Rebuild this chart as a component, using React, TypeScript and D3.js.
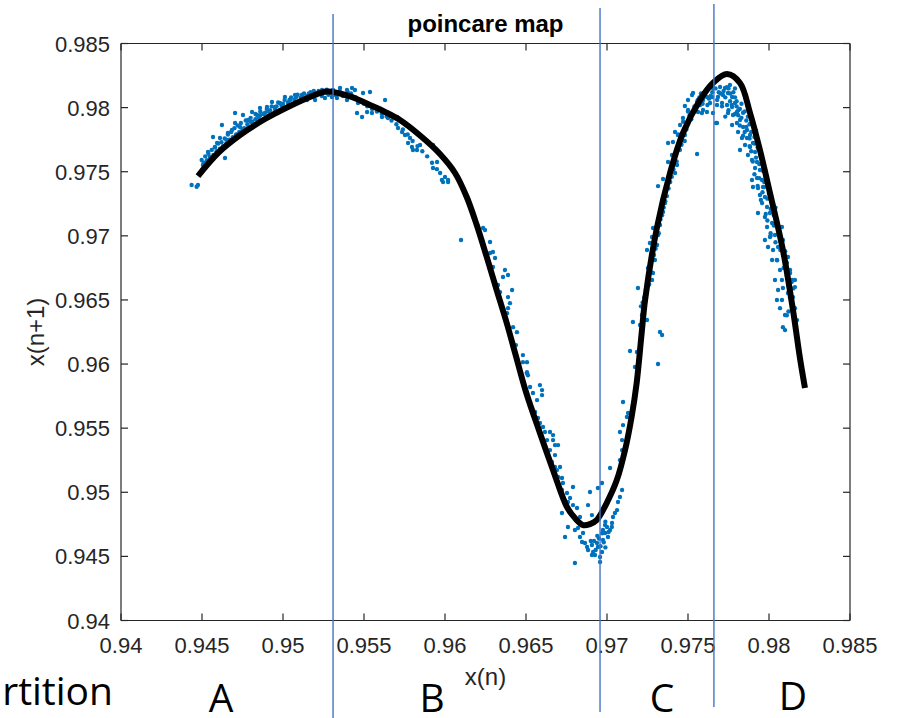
import React from "react";
import * as d3 from "d3";

// ---- data ----
const xTickValues = [0.94, 0.945, 0.95, 0.955, 0.96, 0.965, 0.97, 0.975, 0.98, 0.985];
const xTickLabels = ["0.94", "0.945", "0.95", "0.955", "0.96", "0.965", "0.97", "0.975", "0.98", "0.985"];
const yTickValues = [0.94, 0.945, 0.95, 0.955, 0.96, 0.965, 0.97, 0.975, 0.98, 0.985];
const yTickLabels = ["0.94", "0.945", "0.95", "0.955", "0.96", "0.965", "0.97", "0.975", "0.98", "0.985"];

const titleText = "poincare map";
const xLabel = "x(n)";
const yLabel = "x(n+1)";

// fitted map (black curve)
const fitX = [0.94475, 0.94599, 0.94735, 0.94889, 0.95043, 0.95167, 0.95272, 0.95414, 0.95537, 0.9563, 0.95722, 0.95846, 0.95969, 0.96062, 0.96134, 0.96196, 0.96257, 0.96319, 0.96381, 0.96438, 0.965, 0.96586, 0.96667, 0.96753, 0.96802, 0.96852, 0.96895, 0.96936, 0.96998, 0.9706, 0.97111, 0.97152, 0.97183, 0.97214, 0.97235, 0.97309, 0.97389, 0.97469, 0.97574, 0.97654, 0.97741, 0.97821, 0.97883, 0.97944, 0.98006, 0.98086, 0.98148, 0.98191, 0.98222];
const fitY = [0.97466, 0.97646, 0.97786, 0.97911, 0.98012, 0.98083, 0.98126, 0.98087, 0.9802, 0.97966, 0.97903, 0.97782, 0.97638, 0.9749, 0.97303, 0.97084, 0.96837, 0.96577, 0.9632, 0.96062, 0.95782, 0.95462, 0.95173, 0.94885, 0.94799, 0.94744, 0.94752, 0.94783, 0.94916, 0.95093, 0.95327, 0.95589, 0.95852, 0.96242, 0.96499, 0.97069, 0.9749, 0.97802, 0.98059, 0.98192, 0.98262, 0.98192, 0.97958, 0.97669, 0.97334, 0.96889, 0.96421, 0.96047, 0.95813];

// scatter points, region A
const pointsA: [number, number][] = [
  [0.94436, 0.97396], [0.94467, 0.97383], [0.94475, 0.97396], [0.94498, 0.97591], [0.94506, 0.97552], [0.94537, 0.97654],
  [0.94549, 0.97615], [0.94568, 0.97771], [0.9458, 0.97693], [0.94593, 0.97724], [0.94623, 0.97864], [0.94611, 0.97763],
  [0.94642, 0.97607], [0.9466, 0.97802], [0.94685, 0.97825], [0.94704, 0.97958], [0.94704, 0.9788], [0.94735, 0.97849],
  [0.94753, 0.97942], [0.94784, 0.97903], [0.94809, 0.97966], [0.9484, 0.97942], [0.94858, 0.97997], [0.94901, 0.98005],
  [0.94932, 0.98044], [0.94951, 0.98005], [0.94981, 0.98036], [0.95012, 0.98083], [0.95043, 0.98059], [0.95074, 0.98098],
  [0.95117, 0.98098], [0.95148, 0.98059], [0.95198, 0.98059], [0.95241, 0.98137], [0.95259, 0.98075], [0.95302, 0.98083],
  [0.9451, 0.9757], [0.9452, 0.9762], [0.9453, 0.9759], [0.9454, 0.9764], [0.9455, 0.9761], [0.9456, 0.9767],
  [0.9457, 0.9763], [0.9458, 0.9769], [0.9459, 0.9766], [0.946, 0.9772], [0.9461, 0.9768], [0.9462, 0.9773],
  [0.9463, 0.977], [0.9464, 0.9776], [0.9465, 0.9772], [0.9466, 0.9779], [0.9467, 0.9775], [0.9468, 0.9781],
  [0.9469, 0.9777], [0.947, 0.9784], [0.9471, 0.9779], [0.9472, 0.9786], [0.9473, 0.9781], [0.9474, 0.9788],
  [0.9476, 0.9784], [0.9477, 0.979], [0.9478, 0.9787], [0.948, 0.9792], [0.9481, 0.9789], [0.9483, 0.9795],
  [0.9485, 0.9792], [0.9486, 0.9797], [0.9488, 0.9795], [0.949, 0.9799], [0.9491, 0.9797], [0.9493, 0.9801],
  [0.9495, 0.9799], [0.9497, 0.9804], [0.9499, 0.9802], [0.9501, 0.9806], [0.9503, 0.9804], [0.9505, 0.9808],
  [0.9507, 0.9806], [0.9509, 0.981], [0.9511, 0.9808], [0.9513, 0.9811], [0.9515, 0.9809], [0.9517, 0.9812],
  [0.952, 0.981], [0.9522, 0.9813], [0.9524, 0.9809], [0.9526, 0.9812], [0.9528, 0.981], [0.953, 0.9813],
  [0.945, 0.9751], [0.9452, 0.9755], [0.9455, 0.9758], [0.9457, 0.976], [0.946, 0.9765], [0.9462, 0.9768],
  [0.9465, 0.9775], [0.9467, 0.9772], [0.947, 0.9776], [0.9472, 0.9779], [0.9475, 0.9783], [0.9478, 0.9784],
  [0.948, 0.9789], [0.9483, 0.9791], [0.9486, 0.9794], [0.9489, 0.9796], [0.9492, 0.9798], [0.9496, 0.9801],
  [0.95, 0.9803], [0.9504, 0.9806], [0.9508, 0.9808], [0.9512, 0.981], [0.9516, 0.9811], [0.9519, 0.9813],
  [0.9523, 0.9811], [0.9527, 0.9814],
];

// region B
const pointsB: [number, number][] = [
  [0.95309, 0.98137], [0.95352, 0.98153], [0.95395, 0.98137], [0.95426, 0.98153], [0.95444, 0.98137], [0.95333, 0.98075],
  [0.95395, 0.98059], [0.95463, 0.98036], [0.95494, 0.98114], [0.95537, 0.98122], [0.9563, 0.98059], [0.95457, 0.97958],
  [0.95488, 0.97927], [0.95519, 0.97966], [0.95549, 0.97958], [0.95611, 0.97927], [0.95648, 0.97919], [0.95704, 0.97927],
  [0.9571, 0.97841], [0.95735, 0.9781], [0.95753, 0.97786], [0.95772, 0.97724], [0.95796, 0.97693], [0.95802, 0.97669],
  [0.95827, 0.97669], [0.95846, 0.97708], [0.95784, 0.97763], [0.95926, 0.97708], [0.95926, 0.97529], [0.95951, 0.97576],
  [0.95981, 0.97435], [0.96, 0.97459], [0.96019, 0.97435], [0.96142, 0.97279], [0.95988, 0.97419], [0.96019, 0.97419],
  [0.96142, 0.97294], [0.96099, 0.96967], [0.96185, 0.97139], [0.96235, 0.97061], [0.96247, 0.97045], [0.96278, 0.96952],
  [0.96278, 0.96866], [0.96296, 0.96874], [0.96309, 0.96827], [0.96296, 0.96757], [0.9637, 0.96733], [0.96358, 0.96679],
  [0.96389, 0.96694], [0.96327, 0.96616], [0.9634, 0.96561], [0.96414, 0.96577], [0.96389, 0.96522], [0.96401, 0.96475],
  [0.96389, 0.96436], [0.96383, 0.96397], [0.9642, 0.96288], [0.96444, 0.96249], [0.96438, 0.96148], [0.96481, 0.9607],
  [0.96481, 0.96015], [0.96506, 0.96015], [0.96506, 0.95937], [0.96512, 0.95913],
  [0.9532, 0.981], [0.9535, 0.9813], [0.9537, 0.9809], [0.954, 0.9812], [0.9542, 0.9811], [0.9545, 0.9808],
  [0.9547, 0.9806], [0.955, 0.9803], [0.9552, 0.9801], [0.9555, 0.9799], [0.9558, 0.9797], [0.9561, 0.9795],
  [0.9564, 0.9793], [0.9567, 0.979], [0.957, 0.9787], [0.9574, 0.9783], [0.9577, 0.9779], [0.958, 0.9774],
  [0.9583, 0.977], [0.9586, 0.9766], [0.9589, 0.9762], [0.9592, 0.9757], [0.9595, 0.9752], [0.9597, 0.9749],
];

// valley (end of B, start of C)
const pointsValley: [number, number][] = [
  [0.96506, 0.95929], [0.96525, 0.95821], [0.96543, 0.95774], [0.96586, 0.95836], [0.96599, 0.95797], [0.96599, 0.95758],
  [0.96568, 0.95719], [0.96556, 0.95626], [0.96574, 0.95579], [0.96586, 0.9554], [0.96605, 0.95509], [0.96617, 0.9547],
  [0.9663, 0.95407], [0.96648, 0.9547], [0.96667, 0.95446], [0.96667, 0.95407], [0.96679, 0.95368], [0.96698, 0.95368],
  [0.96648, 0.95329], [0.96679, 0.9529], [0.9666, 0.95236], [0.96679, 0.95197], [0.9671, 0.95197], [0.96691, 0.95173],
  [0.96698, 0.95119], [0.96722, 0.95111], [0.96728, 0.95072], [0.9679, 0.95041], [0.96722, 0.95018], [0.96753, 0.94994],
  [0.96772, 0.94955], [0.96759, 0.94924], [0.9679, 0.949], [0.96815, 0.94877], [0.96722, 0.94838], [0.96833, 0.94807],
  [0.96759, 0.94729], [0.96741, 0.94651], [0.96802, 0.94706], [0.96821, 0.94721], [0.96833, 0.94651], [0.96852, 0.94682],
  [0.96846, 0.94612], [0.96864, 0.94604], [0.96877, 0.94573], [0.96883, 0.9455], [0.96907, 0.94589], [0.96914, 0.94534],
  [0.96907, 0.94511], [0.96926, 0.94511], [0.96938, 0.94604], [0.96944, 0.94573], [0.96957, 0.94495], [0.96957, 0.94456],
  [0.96969, 0.94534], [0.96975, 0.94628], [0.96988, 0.94682], [0.97, 0.94729], [0.97006, 0.94651], [0.97019, 0.94706],
  [0.97031, 0.9476], [0.97037, 0.94807], [0.97049, 0.94838], [0.97062, 0.94861], [0.96988, 0.94744], [0.96975, 0.94706],
  [0.96802, 0.94448], [0.96895, 0.95002], [0.96883, 0.949], [0.96907, 0.94822], [0.96944, 0.95033], [0.96969, 0.95072],
  [0.97019, 0.95189], [0.97068, 0.94924], [0.9708, 0.94963], [0.97093, 0.95018], [0.9708, 0.95251], [0.97093, 0.95329],
  [0.97093, 0.95407], [0.9708, 0.9547], [0.97099, 0.95524], [0.97123, 0.95587], [0.97099, 0.95704], [0.9713, 0.95618],
  [0.9692, 0.9462], [0.9694, 0.9466], [0.9696, 0.9458], [0.9698, 0.9461], [0.9699, 0.9457], [0.9697, 0.9468],
  [0.9695, 0.9464], [0.9693, 0.9455], [0.969, 0.9462], [0.9701, 0.9469], [0.9703, 0.9473], [0.9699, 0.9477],
];

// rising part C
const pointsC: [number, number][] = [
  [0.97315, 0.96], [0.97173, 0.95977], [0.97142, 0.96102], [0.97185, 0.96094], [0.9716, 0.96328], [0.97204, 0.96305],
  [0.97216, 0.96383], [0.97247, 0.96344], [0.97327, 0.9625], [0.9734, 0.96227], [0.97191, 0.96593], [0.97278, 0.96655],
  [0.97284, 0.9671], [0.97253, 0.96749], [0.97296, 0.96811], [0.97247, 0.96889], [0.97265, 0.96944], [0.97309, 0.96928],
  [0.97278, 0.96991], [0.97315, 0.97006], [0.97284, 0.97061], [0.97327, 0.97084], [0.97358, 0.97256], [0.97346, 0.97186],
  [0.97315, 0.97388], [0.97346, 0.97443], [0.97377, 0.97576], [0.9742, 0.9749], [0.97432, 0.97552], [0.97401, 0.9763],
  [0.97377, 0.97724], [0.97407, 0.97732], [0.9742, 0.9781], [0.97438, 0.97786], [0.97481, 0.97786], [0.97451, 0.97864],
  [0.97469, 0.97919], [0.97481, 0.98012], [0.975, 0.97981], [0.975, 0.98059], [0.97525, 0.98098], [0.97531, 0.98114],
  [0.97556, 0.97638], [0.97556, 0.98044], [0.97562, 0.97966], [0.97586, 0.97958], [0.97574, 0.9802], [0.97593, 0.98059],
  [0.97617, 0.98083], [0.97617, 0.97966], [0.97636, 0.98036], [0.97648, 0.98083], [0.97673, 0.9788], [0.97679, 0.9802],
  [0.9721, 0.9645], [0.9723, 0.9652], [0.9726, 0.9662], [0.9729, 0.9685], [0.9733, 0.9713], [0.9735, 0.9722],
  [0.9737, 0.9731], [0.9739, 0.9742], [0.9741, 0.9752], [0.9745, 0.9767], [0.9748, 0.9774], [0.9751, 0.9794],
  [0.9754, 0.9801], [0.9757, 0.9808], [0.976, 0.981], [0.9763, 0.9807], [0.9765, 0.9812], [0.9759, 0.9803],
  [0.9722, 0.9648], [0.9724, 0.9658], [0.9727, 0.9672], [0.973, 0.969], [0.9732, 0.9702], [0.9734, 0.9716],
  [0.9736, 0.9727], [0.9738, 0.9737], [0.974, 0.9746], [0.9743, 0.9758], [0.9746, 0.9771], [0.9749, 0.9783],
  [0.9752, 0.9791], [0.9744, 0.9779], [0.9747, 0.9789], [0.975, 0.9797],
];

// peak and descent D
const pointsD: [number, number][] = [
  [0.97593, 0.97981], [0.97654, 0.97958], [0.97679, 0.9788], [0.97654, 0.98153], [0.97698, 0.98161], [0.97728, 0.98153],
  [0.97759, 0.98176], [0.97685, 0.98083], [0.97716, 0.98098], [0.97747, 0.98114], [0.97772, 0.98083], [0.9771, 0.98036],
  [0.97741, 0.9802], [0.97772, 0.98005], [0.9779, 0.98036], [0.97747, 0.97958], [0.97778, 0.97942], [0.97802, 0.97966],
  [0.97772, 0.97864], [0.97802, 0.9788], [0.97821, 0.97903], [0.9784, 0.97849], [0.97809, 0.9781], [0.97864, 0.97825],
  [0.97833, 0.97763], [0.97864, 0.97763], [0.97883, 0.97786], [0.97852, 0.97708], [0.97821, 0.97669], [0.97883, 0.97693],
  [0.97901, 0.97724], [0.9787, 0.9763], [0.97914, 0.97654], [0.97932, 0.97685], [0.97895, 0.97591], [0.97926, 0.97576],
  [0.97957, 0.97591], [0.97914, 0.97529], [0.97944, 0.97513], [0.97895, 0.97435], [0.97926, 0.97451], [0.97957, 0.97435],
  [0.97901, 0.97381], [0.97932, 0.97373], [0.97963, 0.97381], [0.97944, 0.97318], [0.97975, 0.97303], [0.98006, 0.97334],
  [0.97957, 0.97256], [0.97932, 0.97178], [0.97988, 0.97225], [0.98019, 0.97256], [0.97975, 0.97147], [0.98006, 0.97178],
  [0.98037, 0.97186], [0.97988, 0.97069], [0.98019, 0.971], [0.98049, 0.97108], [0.97975, 0.96967], [0.98006, 0.96991],
  [0.98037, 0.97006], [0.9808, 0.97069], [0.97994, 0.96913], [0.98025, 0.96889], [0.98056, 0.96913], [0.98086, 0.96967],
  [0.98019, 0.96811], [0.98049, 0.96811], [0.98086, 0.9685], [0.98117, 0.96835], [0.98068, 0.96733], [0.98099, 0.96749],
  [0.9813, 0.96733], [0.98037, 0.96655], [0.9808, 0.96655], [0.98142, 0.96655], [0.9816, 0.96655], [0.98056, 0.96577],
  [0.98086, 0.96593], [0.98117, 0.96554], [0.98148, 0.96522], [0.98049, 0.96499], [0.9808, 0.96499], [0.98068, 0.96436],
  [0.98142, 0.96475], [0.9816, 0.96436], [0.98099, 0.96382], [0.98086, 0.96288], [0.98099, 0.96265], [0.98173, 0.96343],
  [0.9769, 0.9812], [0.9772, 0.9813], [0.9775, 0.9815], [0.9778, 0.9812], [0.9776, 0.9805], [0.9779, 0.9808],
  [0.978, 0.9801], [0.9782, 0.9799], [0.9781, 0.9794], [0.9784, 0.9796], [0.9786, 0.979], [0.9788, 0.9787],
  [0.9785, 0.9781], [0.9788, 0.9776], [0.9791, 0.9772], [0.9789, 0.9766], [0.9792, 0.9761], [0.9794, 0.9756],
  [0.9791, 0.9748], [0.9794, 0.9745], [0.9797, 0.9742], [0.9796, 0.9734], [0.9799, 0.9729], [0.9801, 0.9721],
  [0.9799, 0.9712], [0.9803, 0.9708], [0.9801, 0.9702], [0.9804, 0.9695], [0.9807, 0.9689], [0.9805, 0.9681],
  [0.9809, 0.9675], [0.9811, 0.9669], [0.9812, 0.9661], [0.9815, 0.9659], [0.9814, 0.9649], [0.9812, 0.9641],
  [0.9756, 0.9806], [0.9758, 0.9811], [0.9761, 0.9813], [0.9762, 0.9802], [0.9764, 0.9809], [0.9767, 0.9815],
  [0.9768, 0.9806], [0.977, 0.9811], [0.9771, 0.9801], [0.9773, 0.9808], [0.9774, 0.9816], [0.9776, 0.9811],
  [0.9777, 0.9802], [0.9779, 0.9815], [0.978, 0.9805], [0.9781, 0.9798], [0.9783, 0.9803], [0.9783, 0.9792],
  [0.9785, 0.9797], [0.9786, 0.9785], [0.9787, 0.9793], [0.9789, 0.9781], [0.979, 0.9788], [0.9791, 0.9777],
  [0.9793, 0.9769], [0.9792, 0.9782], [0.9795, 0.9762], [0.9796, 0.9751], [0.9797, 0.9738], [0.9798, 0.9747],
  [0.98, 0.9733], [0.9802, 0.9726], [0.9803, 0.9716], [0.9805, 0.971], [0.9806, 0.9702], [0.9808, 0.9696],
  [0.981, 0.9688], [0.9811, 0.9679], [0.9813, 0.9671], [0.9814, 0.9664], [0.9816, 0.966], [0.9813, 0.9652],
  [0.9815, 0.9645], [0.9811, 0.9638], [0.9804, 0.9722], [0.9801, 0.97], [0.9798, 0.9717], [0.9795, 0.9728],
  [0.9793, 0.9739], [0.979, 0.9758], [0.9788, 0.977], [0.9784, 0.9778], [0.9782, 0.9786], [0.9779, 0.9795],
  [0.9775, 0.9798], [0.9773, 0.9793],
];

const partitionX = [0.95309, 0.96957, 0.9766];
const partitionLabels = ["A", "B", "C", "D"];
const sideLabel = "rtition";

// ---- layout ----
const W = 902;
const H = 718;
const plot = { left: 121, right: 850, top: 43.5, bottom: 620.5 };
const partitionTop = [14, 8, 4];
const partitionBottom = [718, 712, 707];
const letterX = [221, 432, 662, 793];
const letterY = [712, 712, 712, 710];
const axisColor = "#262626";
const dotColor = "#0072BD";
const partColor = "#4472C4";

export default function App() {
  const x = d3.scaleLinear().domain([0.94, 0.985]).range([plot.left, plot.right]);
  const y = d3.scaleLinear().domain([0.94, 0.985]).range([plot.bottom, plot.top]);
  const allPoints = [...pointsA, ...pointsB, ...pointsValley, ...pointsC, ...pointsD];
  const fit = fitX.map((v, i) => [v, fitY[i]] as [number, number]);
  const line = d3
    .line<[number, number]>()
    .x((d) => x(d[0]))
    .y((d) => y(d[1]))
    .curve(d3.curveCatmullRom.alpha(0.5));
  const tickLen = 7;
  const font = "'Liberation Sans', Arial, Helvetica, sans-serif";

  return (
    <div style={{ position: "absolute", left: 0, top: 0 }}>
      <svg width={W} height={H} style={{ display: "block", background: "#fff" }}>
        <rect x={0} y={0} width={W} height={H} fill="#fff" />
        {/* scatter */}
        <g fill={dotColor}>
          {allPoints.map((p, i) => (
            <circle key={i} cx={x(p[0])} cy={y(p[1])} r={2.2} />
          ))}
        </g>
        {/* fitted curve */}
        <path d={line(fit) || ""} fill="none" stroke="#000" strokeWidth={6} strokeLinejoin="round" />
        {/* axes box */}
        <g stroke={axisColor} strokeWidth={1.2} fill="none">
          <line x1={plot.left} x2={plot.right} y1={plot.bottom} y2={plot.bottom} />
          <line x1={plot.left} x2={plot.right} y1={plot.top} y2={plot.top} />
          <line x1={plot.left} x2={plot.left} y1={plot.top} y2={plot.bottom} />
          <line x1={plot.right} x2={plot.right} y1={plot.top} y2={plot.bottom} />
          {xTickValues.map((v, i) => (
            <g key={"xt" + i}>
              <line x1={x(v)} x2={x(v)} y1={plot.bottom} y2={plot.bottom - tickLen} />
              <line x1={x(v)} x2={x(v)} y1={plot.top} y2={plot.top + tickLen} />
            </g>
          ))}
          {yTickValues.map((v, i) => (
            <g key={"yt" + i}>
              <line x1={plot.left} x2={plot.left + tickLen} y1={y(v)} y2={y(v)} />
              <line x1={plot.right} x2={plot.right - tickLen} y1={y(v)} y2={y(v)} />
            </g>
          ))}
        </g>
        {/* tick labels */}
        <g fill={axisColor} fontFamily={font} fontSize={22}>
          {xTickValues.map((v, i) => (
            <text key={"xl" + i} x={x(v)} y={653} textAnchor="middle">
              {xTickLabels[i]}
            </text>
          ))}
          {yTickValues.map((v, i) => (
            <text key={"yl" + i} x={110} y={y(v) + 8} textAnchor="end">
              {yTickLabels[i]}
            </text>
          ))}
        </g>
        {/* axis labels + title */}
        <text x={(plot.left + plot.right) / 2} y={685} textAnchor="middle" fontFamily={font} fontSize={24} fill={axisColor}>
          {xLabel}
        </text>
        <text
          transform={`translate(44, ${(plot.top + plot.bottom) / 2}) rotate(-90)`}
          textAnchor="middle"
          fontFamily={font}
          fontSize={24}
          fill={axisColor}
        >
          {yLabel}
        </text>
        <text x={(plot.left + plot.right) / 2} y={32} textAnchor="middle" fontFamily={font} fontSize={24} fontWeight="bold" fill="#000">
          {titleText}
        </text>
        {/* partition lines */}
        <g stroke={partColor} strokeWidth={1.4}>
          {partitionX.map((v, i) => (
            <line key={"p" + i} x1={x(v)} x2={x(v)} y1={partitionTop[i]} y2={partitionBottom[i]} />
          ))}
        </g>
        {/* partition letters */}
        <g fontFamily="'Open Sans', sans-serif" fontSize={39} fill="#000">
          <text x={113} y={705} textAnchor="end">
            {sideLabel}
          </text>
          {partitionLabels.map((s, i) => (
            <text key={"pl" + i} x={letterX[i]} y={letterY[i]} textAnchor="middle">
              {s}
            </text>
          ))}
        </g>
      </svg>
    </div>
  );
}
